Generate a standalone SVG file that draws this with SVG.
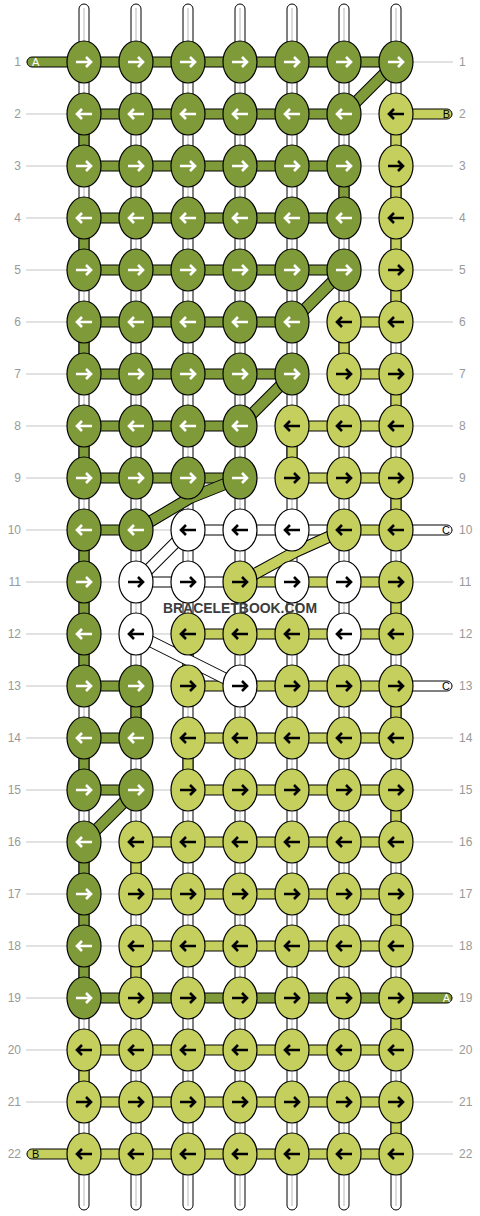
<svg xmlns="http://www.w3.org/2000/svg" xmlns:xlink="http://www.w3.org/1999/xlink" width="480" height="1216" viewBox="0 0 480 1216">
<style>
.d{fill:#7f9a38}.l{fill:#c5cf5d}.w{fill:#fff}
.aw{stroke:#fff}.ab{stroke:#000}
.bar{stroke:#000;stroke-width:1}
.rl{stroke:#c4c4c4;stroke-width:1}
.warp{fill:#fff;stroke:#000;stroke-width:1}
.wl{stroke:#b8b8b8;stroke-width:1}
.dg{fill:none;stroke-linecap:butt;stroke-linejoin:round}
.lab{font-family:"Liberation Sans",Arial,sans-serif;font-size:12px;fill:#999}
.tab{font-family:"Liberation Sans",Arial,sans-serif;font-size:11px}
.wm{font-family:"Liberation Sans",Arial,sans-serif;font-size:14px;font-weight:bold;fill:#3c3c3c}
</style>
<defs>
<ellipse id="E" rx="17" ry="21" stroke="#000" stroke-width="1.2"/>
<path id="R" d="M-8,0H6.5M2,-5L7,0L2,5" fill="none" stroke-width="2.6"/>
<path id="L" d="M8,0H-6.5M-2,-5L-7,0L-2,5" fill="none" stroke-width="2.6"/>
</defs>
<g id="rowlines">
<line class="rl" x1="26" x2="453" y1="62" y2="62"/><line class="rl" x1="26" x2="453" y1="114" y2="114"/><line class="rl" x1="26" x2="453" y1="166" y2="166"/><line class="rl" x1="26" x2="453" y1="218" y2="218"/><line class="rl" x1="26" x2="453" y1="270" y2="270"/><line class="rl" x1="26" x2="453" y1="322" y2="322"/><line class="rl" x1="26" x2="453" y1="374" y2="374"/><line class="rl" x1="26" x2="453" y1="426" y2="426"/><line class="rl" x1="26" x2="453" y1="478" y2="478"/><line class="rl" x1="26" x2="453" y1="530" y2="530"/><line class="rl" x1="26" x2="453" y1="582" y2="582"/><line class="rl" x1="26" x2="453" y1="634" y2="634"/><line class="rl" x1="26" x2="453" y1="686" y2="686"/><line class="rl" x1="26" x2="453" y1="738" y2="738"/><line class="rl" x1="26" x2="453" y1="790" y2="790"/><line class="rl" x1="26" x2="453" y1="842" y2="842"/><line class="rl" x1="26" x2="453" y1="894" y2="894"/><line class="rl" x1="26" x2="453" y1="946" y2="946"/><line class="rl" x1="26" x2="453" y1="998" y2="998"/><line class="rl" x1="26" x2="453" y1="1050" y2="1050"/><line class="rl" x1="26" x2="453" y1="1102" y2="1102"/><line class="rl" x1="26" x2="453" y1="1154" y2="1154"/>
</g>
<g id="labels" class="lab">
<g text-anchor="end">
<text x="21" y="66">1</text><text x="21" y="118">2</text><text x="21" y="170">3</text><text x="21" y="222">4</text><text x="21" y="274">5</text><text x="21" y="326">6</text><text x="21" y="378">7</text><text x="21" y="430">8</text><text x="21" y="482">9</text><text x="21" y="534">10</text><text x="21" y="586">11</text><text x="21" y="638">12</text><text x="21" y="690">13</text><text x="21" y="742">14</text><text x="21" y="794">15</text><text x="21" y="846">16</text><text x="21" y="898">17</text><text x="21" y="950">18</text><text x="21" y="1002">19</text><text x="21" y="1054">20</text><text x="21" y="1106">21</text><text x="21" y="1158">22</text>
</g>
<g>
<text x="459" y="66">1</text><text x="459" y="118">2</text><text x="459" y="170">3</text><text x="459" y="222">4</text><text x="459" y="274">5</text><text x="459" y="326">6</text><text x="459" y="378">7</text><text x="459" y="430">8</text><text x="459" y="482">9</text><text x="459" y="534">10</text><text x="459" y="586">11</text><text x="459" y="638">12</text><text x="459" y="690">13</text><text x="459" y="742">14</text><text x="459" y="794">15</text><text x="459" y="846">16</text><text x="459" y="898">17</text><text x="459" y="950">18</text><text x="459" y="1002">19</text><text x="459" y="1054">20</text><text x="459" y="1106">21</text><text x="459" y="1158">22</text>
</g>
</g>
<g id="warps">
<rect class="warp" x="79" y="4" width="10" height="1206" rx="5"/><line class="wl" x1="84" x2="84" y1="8" y2="1206"/>
<rect class="warp" x="131" y="4" width="10" height="1206" rx="5"/><line class="wl" x1="136" x2="136" y1="8" y2="1206"/>
<rect class="warp" x="183" y="4" width="10" height="1206" rx="5"/><line class="wl" x1="188" x2="188" y1="8" y2="1206"/>
<rect class="warp" x="235" y="4" width="10" height="1206" rx="5"/><line class="wl" x1="240" x2="240" y1="8" y2="1206"/>
<rect class="warp" x="287" y="4" width="10" height="1206" rx="5"/><line class="wl" x1="292" x2="292" y1="8" y2="1206"/>
<rect class="warp" x="339" y="4" width="10" height="1206" rx="5"/><line class="wl" x1="344" x2="344" y1="8" y2="1206"/>
<rect class="warp" x="391" y="4" width="10" height="1206" rx="5"/><line class="wl" x1="396" x2="396" y1="8" y2="1206"/>
</g>
<g id="connectors">
<g id="hbars" class="bar">
<path class="d" d="M396,57H32A5,5 0 0 0 32,67H396Z"/>
<rect class="d" x="84" y="109" width="260" height="10"/>
<path class="l" d="M396,109H447A5,5 0 0 1 447,119H396Z"/>
<rect class="d" x="84" y="161" width="260" height="10"/>
<rect class="d" x="84" y="213" width="260" height="10"/>
<rect class="d" x="84" y="265" width="260" height="10"/>
<rect class="d" x="84" y="317" width="208" height="10"/><rect class="l" x="344" y="317" width="52" height="10"/>
<rect class="d" x="84" y="369" width="208" height="10"/><rect class="l" x="344" y="369" width="52" height="10"/>
<rect class="d" x="84" y="421" width="156" height="10"/><rect class="l" x="292" y="421" width="104" height="10"/>
<rect class="d" x="84" y="473" width="156" height="10"/><rect class="l" x="292" y="473" width="104" height="10"/>
<rect class="d" x="84" y="525" width="52" height="10"/><rect class="w" x="188" y="525" width="156" height="10"/><rect class="l" x="344" y="525" width="52" height="10"/>
<path class="w" d="M396,525H447A5,5 0 0 1 447,535H396Z"/>
<rect class="w" x="136" y="577" width="104" height="10"/><rect class="l" x="240" y="577" width="156" height="10"/>
<rect class="l" x="188" y="629" width="208" height="10"/>
<rect class="d" x="84" y="681" width="52" height="10"/><rect class="l" x="188" y="681" width="208" height="10"/>
<path class="w" d="M396,681H447A5,5 0 0 1 447,691H396Z"/>
<rect class="d" x="84" y="733" width="52" height="10"/><rect class="l" x="188" y="733" width="208" height="10"/>
<rect class="d" x="84" y="785" width="52" height="10"/><rect class="l" x="188" y="785" width="208" height="10"/>
<rect class="l" x="136" y="837" width="260" height="10"/>
<rect class="l" x="136" y="889" width="260" height="10"/>
<rect class="l" x="136" y="941" width="260" height="10"/>
<path class="d" d="M84,993H447A5,5 0 0 1 447,1003H84Z"/>
<rect class="l" x="84" y="1045" width="312" height="10"/>
<rect class="l" x="84" y="1097" width="312" height="10"/>
<path class="l" d="M396,1149H32A5,5 0 0 0 32,1159H396Z"/>
</g>
<g id="vbars" class="bar">
<rect class="d" x="79" y="114" width="10" height="52"/><rect class="d" x="339" y="166" width="10" height="52"/><rect class="d" x="79" y="218" width="10" height="52"/><rect class="d" x="79" y="322" width="10" height="52"/><rect class="d" x="79" y="426" width="10" height="52"/><rect class="d" x="79" y="530" width="10" height="52"/><rect class="d" x="79" y="582" width="10" height="52"/><rect class="d" x="79" y="634" width="10" height="52"/><rect class="d" x="131" y="686" width="10" height="52"/><rect class="d" x="79" y="738" width="10" height="52"/><rect class="d" x="79" y="842" width="10" height="52"/><rect class="d" x="79" y="894" width="10" height="52"/><rect class="d" x="79" y="946" width="10" height="52"/>
<rect class="l" x="391" y="114" width="10" height="52"/><rect class="l" x="391" y="166" width="10" height="52"/><rect class="l" x="391" y="218" width="10" height="52"/><rect class="l" x="391" y="270" width="10" height="52"/><rect class="l" x="339" y="322" width="10" height="52"/><rect class="l" x="391" y="374" width="10" height="52"/><rect class="l" x="287" y="426" width="10" height="52"/><rect class="l" x="391" y="478" width="10" height="52"/><rect class="l" x="391" y="582" width="10" height="52"/><rect class="l" x="183" y="634" width="10" height="52"/><rect class="l" x="391" y="686" width="10" height="52"/><rect class="l" x="183" y="738" width="10" height="52"/><rect class="l" x="391" y="790" width="10" height="52"/><rect class="l" x="131" y="842" width="10" height="52"/><rect class="l" x="391" y="894" width="10" height="52"/><rect class="l" x="131" y="946" width="10" height="52"/><rect class="l" x="391" y="998" width="10" height="52"/><rect class="l" x="79" y="1050" width="10" height="52"/><rect class="l" x="391" y="1102" width="10" height="52"/>
</g>
<g id="diagonals" class="dg">
<g stroke="#000" stroke-width="12">
<polyline points="396,62 344,114"/><polyline points="344,270 292,322"/><polyline points="292,374 240,426"/><polyline points="240,478 190,498 136,530"/><polyline points="136,790 84,842"/>
<polyline points="344,530 295,552 240,582"/>
<polyline points="188,530 136,582"/><polyline points="136,634 240,686"/>
</g>
<g stroke="#7f9a38" stroke-width="10">
<polyline points="396,62 344,114"/><polyline points="344,270 292,322"/><polyline points="292,374 240,426"/><polyline points="240,478 190,498 136,530"/><polyline points="136,790 84,842"/>
</g>
<polyline stroke="#c5cf5d" stroke-width="10" points="344,530 295,552 240,582"/>
<g stroke="#fff" stroke-width="10">
<polyline points="188,530 136,582"/><polyline points="136,634 240,686"/>
</g>
</g>
</g>
<g id="tabtext" class="tab">
<text x="32" y="66" fill="#fff">A</text>
<text x="450" y="118" text-anchor="end" fill="#000">B</text>
<text x="450" y="534" text-anchor="end" fill="#000">C</text>
<text x="450" y="690" text-anchor="end" fill="#000">C</text>
<text x="450" y="1002" text-anchor="end" fill="#fff">A</text>
<text x="32" y="1158" fill="#000">B</text>
</g>
<g id="knots">
<g id="k1_1"><use href="#E" x="84" y="62" class="d"/><use href="#R" x="84" y="62" class="aw"/></g>
<g id="k1_2"><use href="#E" x="136" y="62" class="d"/><use href="#R" x="136" y="62" class="aw"/></g>
<g id="k1_3"><use href="#E" x="188" y="62" class="d"/><use href="#R" x="188" y="62" class="aw"/></g>
<g id="k1_4"><use href="#E" x="240" y="62" class="d"/><use href="#R" x="240" y="62" class="aw"/></g>
<g id="k1_5"><use href="#E" x="292" y="62" class="d"/><use href="#R" x="292" y="62" class="aw"/></g>
<g id="k1_6"><use href="#E" x="344" y="62" class="d"/><use href="#R" x="344" y="62" class="aw"/></g>
<g id="k1_7"><use href="#E" x="396" y="62" class="d"/><use href="#R" x="396" y="62" class="aw"/></g>
<g id="k2_1"><use href="#E" x="84" y="114" class="d"/><use href="#L" x="84" y="114" class="aw"/></g>
<g id="k2_2"><use href="#E" x="136" y="114" class="d"/><use href="#L" x="136" y="114" class="aw"/></g>
<g id="k2_3"><use href="#E" x="188" y="114" class="d"/><use href="#L" x="188" y="114" class="aw"/></g>
<g id="k2_4"><use href="#E" x="240" y="114" class="d"/><use href="#L" x="240" y="114" class="aw"/></g>
<g id="k2_5"><use href="#E" x="292" y="114" class="d"/><use href="#L" x="292" y="114" class="aw"/></g>
<g id="k2_6"><use href="#E" x="344" y="114" class="d"/><use href="#L" x="344" y="114" class="aw"/></g>
<g id="k2_7"><use href="#E" x="396" y="114" class="l"/><use href="#L" x="396" y="114" class="ab"/></g>
<g id="k3_1"><use href="#E" x="84" y="166" class="d"/><use href="#R" x="84" y="166" class="aw"/></g>
<g id="k3_2"><use href="#E" x="136" y="166" class="d"/><use href="#R" x="136" y="166" class="aw"/></g>
<g id="k3_3"><use href="#E" x="188" y="166" class="d"/><use href="#R" x="188" y="166" class="aw"/></g>
<g id="k3_4"><use href="#E" x="240" y="166" class="d"/><use href="#R" x="240" y="166" class="aw"/></g>
<g id="k3_5"><use href="#E" x="292" y="166" class="d"/><use href="#R" x="292" y="166" class="aw"/></g>
<g id="k3_6"><use href="#E" x="344" y="166" class="d"/><use href="#R" x="344" y="166" class="aw"/></g>
<g id="k3_7"><use href="#E" x="396" y="166" class="l"/><use href="#R" x="396" y="166" class="ab"/></g>
<g id="k4_1"><use href="#E" x="84" y="218" class="d"/><use href="#L" x="84" y="218" class="aw"/></g>
<g id="k4_2"><use href="#E" x="136" y="218" class="d"/><use href="#L" x="136" y="218" class="aw"/></g>
<g id="k4_3"><use href="#E" x="188" y="218" class="d"/><use href="#L" x="188" y="218" class="aw"/></g>
<g id="k4_4"><use href="#E" x="240" y="218" class="d"/><use href="#L" x="240" y="218" class="aw"/></g>
<g id="k4_5"><use href="#E" x="292" y="218" class="d"/><use href="#L" x="292" y="218" class="aw"/></g>
<g id="k4_6"><use href="#E" x="344" y="218" class="d"/><use href="#L" x="344" y="218" class="aw"/></g>
<g id="k4_7"><use href="#E" x="396" y="218" class="l"/><use href="#L" x="396" y="218" class="ab"/></g>
<g id="k5_1"><use href="#E" x="84" y="270" class="d"/><use href="#R" x="84" y="270" class="aw"/></g>
<g id="k5_2"><use href="#E" x="136" y="270" class="d"/><use href="#R" x="136" y="270" class="aw"/></g>
<g id="k5_3"><use href="#E" x="188" y="270" class="d"/><use href="#R" x="188" y="270" class="aw"/></g>
<g id="k5_4"><use href="#E" x="240" y="270" class="d"/><use href="#R" x="240" y="270" class="aw"/></g>
<g id="k5_5"><use href="#E" x="292" y="270" class="d"/><use href="#R" x="292" y="270" class="aw"/></g>
<g id="k5_6"><use href="#E" x="344" y="270" class="d"/><use href="#R" x="344" y="270" class="aw"/></g>
<g id="k5_7"><use href="#E" x="396" y="270" class="l"/><use href="#R" x="396" y="270" class="ab"/></g>
<g id="k6_1"><use href="#E" x="84" y="322" class="d"/><use href="#L" x="84" y="322" class="aw"/></g>
<g id="k6_2"><use href="#E" x="136" y="322" class="d"/><use href="#L" x="136" y="322" class="aw"/></g>
<g id="k6_3"><use href="#E" x="188" y="322" class="d"/><use href="#L" x="188" y="322" class="aw"/></g>
<g id="k6_4"><use href="#E" x="240" y="322" class="d"/><use href="#L" x="240" y="322" class="aw"/></g>
<g id="k6_5"><use href="#E" x="292" y="322" class="d"/><use href="#L" x="292" y="322" class="aw"/></g>
<g id="k6_6"><use href="#E" x="344" y="322" class="l"/><use href="#L" x="344" y="322" class="ab"/></g>
<g id="k6_7"><use href="#E" x="396" y="322" class="l"/><use href="#L" x="396" y="322" class="ab"/></g>
<g id="k7_1"><use href="#E" x="84" y="374" class="d"/><use href="#R" x="84" y="374" class="aw"/></g>
<g id="k7_2"><use href="#E" x="136" y="374" class="d"/><use href="#R" x="136" y="374" class="aw"/></g>
<g id="k7_3"><use href="#E" x="188" y="374" class="d"/><use href="#R" x="188" y="374" class="aw"/></g>
<g id="k7_4"><use href="#E" x="240" y="374" class="d"/><use href="#R" x="240" y="374" class="aw"/></g>
<g id="k7_5"><use href="#E" x="292" y="374" class="d"/><use href="#R" x="292" y="374" class="aw"/></g>
<g id="k7_6"><use href="#E" x="344" y="374" class="l"/><use href="#R" x="344" y="374" class="ab"/></g>
<g id="k7_7"><use href="#E" x="396" y="374" class="l"/><use href="#R" x="396" y="374" class="ab"/></g>
<g id="k8_1"><use href="#E" x="84" y="426" class="d"/><use href="#L" x="84" y="426" class="aw"/></g>
<g id="k8_2"><use href="#E" x="136" y="426" class="d"/><use href="#L" x="136" y="426" class="aw"/></g>
<g id="k8_3"><use href="#E" x="188" y="426" class="d"/><use href="#L" x="188" y="426" class="aw"/></g>
<g id="k8_4"><use href="#E" x="240" y="426" class="d"/><use href="#L" x="240" y="426" class="aw"/></g>
<g id="k8_5"><use href="#E" x="292" y="426" class="l"/><use href="#L" x="292" y="426" class="ab"/></g>
<g id="k8_6"><use href="#E" x="344" y="426" class="l"/><use href="#L" x="344" y="426" class="ab"/></g>
<g id="k8_7"><use href="#E" x="396" y="426" class="l"/><use href="#L" x="396" y="426" class="ab"/></g>
<g id="k9_1"><use href="#E" x="84" y="478" class="d"/><use href="#R" x="84" y="478" class="aw"/></g>
<g id="k9_2"><use href="#E" x="136" y="478" class="d"/><use href="#R" x="136" y="478" class="aw"/></g>
<g id="k9_3"><use href="#E" x="188" y="478" class="d"/><use href="#R" x="188" y="478" class="aw"/></g>
<g id="k9_4"><use href="#E" x="240" y="478" class="d"/><use href="#R" x="240" y="478" class="aw"/></g>
<g id="k9_5"><use href="#E" x="292" y="478" class="l"/><use href="#R" x="292" y="478" class="ab"/></g>
<g id="k9_6"><use href="#E" x="344" y="478" class="l"/><use href="#R" x="344" y="478" class="ab"/></g>
<g id="k9_7"><use href="#E" x="396" y="478" class="l"/><use href="#R" x="396" y="478" class="ab"/></g>
<g id="k10_1"><use href="#E" x="84" y="530" class="d"/><use href="#L" x="84" y="530" class="aw"/></g>
<g id="k10_2"><use href="#E" x="136" y="530" class="d"/><use href="#L" x="136" y="530" class="aw"/></g>
<g id="k10_3"><use href="#E" x="188" y="530" class="w"/><use href="#L" x="188" y="530" class="ab"/></g>
<g id="k10_4"><use href="#E" x="240" y="530" class="w"/><use href="#L" x="240" y="530" class="ab"/></g>
<g id="k10_5"><use href="#E" x="292" y="530" class="w"/><use href="#L" x="292" y="530" class="ab"/></g>
<g id="k10_6"><use href="#E" x="344" y="530" class="l"/><use href="#L" x="344" y="530" class="ab"/></g>
<g id="k10_7"><use href="#E" x="396" y="530" class="l"/><use href="#L" x="396" y="530" class="ab"/></g>
<g id="k11_1"><use href="#E" x="84" y="582" class="d"/><use href="#R" x="84" y="582" class="aw"/></g>
<g id="k11_2"><use href="#E" x="136" y="582" class="w"/><use href="#R" x="136" y="582" class="ab"/></g>
<g id="k11_3"><use href="#E" x="188" y="582" class="w"/><use href="#R" x="188" y="582" class="ab"/></g>
<g id="k11_4"><use href="#E" x="240" y="582" class="l"/><use href="#R" x="240" y="582" class="ab"/></g>
<g id="k11_5"><use href="#E" x="292" y="582" class="w"/><use href="#R" x="292" y="582" class="ab"/></g>
<g id="k11_6"><use href="#E" x="344" y="582" class="w"/><use href="#R" x="344" y="582" class="ab"/></g>
<g id="k11_7"><use href="#E" x="396" y="582" class="l"/><use href="#R" x="396" y="582" class="ab"/></g>
<g id="k12_1"><use href="#E" x="84" y="634" class="d"/><use href="#L" x="84" y="634" class="aw"/></g>
<g id="k12_2"><use href="#E" x="136" y="634" class="w"/><use href="#L" x="136" y="634" class="ab"/></g>
<g id="k12_3"><use href="#E" x="188" y="634" class="l"/><use href="#L" x="188" y="634" class="ab"/></g>
<g id="k12_4"><use href="#E" x="240" y="634" class="l"/><use href="#L" x="240" y="634" class="ab"/></g>
<g id="k12_5"><use href="#E" x="292" y="634" class="l"/><use href="#L" x="292" y="634" class="ab"/></g>
<g id="k12_6"><use href="#E" x="344" y="634" class="w"/><use href="#L" x="344" y="634" class="ab"/></g>
<g id="k12_7"><use href="#E" x="396" y="634" class="l"/><use href="#L" x="396" y="634" class="ab"/></g>
<g id="k13_1"><use href="#E" x="84" y="686" class="d"/><use href="#R" x="84" y="686" class="aw"/></g>
<g id="k13_2"><use href="#E" x="136" y="686" class="d"/><use href="#R" x="136" y="686" class="aw"/></g>
<g id="k13_3"><use href="#E" x="188" y="686" class="l"/><use href="#R" x="188" y="686" class="ab"/></g>
<g id="k13_4"><use href="#E" x="240" y="686" class="w"/><use href="#R" x="240" y="686" class="ab"/></g>
<g id="k13_5"><use href="#E" x="292" y="686" class="l"/><use href="#R" x="292" y="686" class="ab"/></g>
<g id="k13_6"><use href="#E" x="344" y="686" class="l"/><use href="#R" x="344" y="686" class="ab"/></g>
<g id="k13_7"><use href="#E" x="396" y="686" class="l"/><use href="#R" x="396" y="686" class="ab"/></g>
<g id="k14_1"><use href="#E" x="84" y="738" class="d"/><use href="#L" x="84" y="738" class="aw"/></g>
<g id="k14_2"><use href="#E" x="136" y="738" class="d"/><use href="#L" x="136" y="738" class="aw"/></g>
<g id="k14_3"><use href="#E" x="188" y="738" class="l"/><use href="#L" x="188" y="738" class="ab"/></g>
<g id="k14_4"><use href="#E" x="240" y="738" class="l"/><use href="#L" x="240" y="738" class="ab"/></g>
<g id="k14_5"><use href="#E" x="292" y="738" class="l"/><use href="#L" x="292" y="738" class="ab"/></g>
<g id="k14_6"><use href="#E" x="344" y="738" class="l"/><use href="#L" x="344" y="738" class="ab"/></g>
<g id="k14_7"><use href="#E" x="396" y="738" class="l"/><use href="#L" x="396" y="738" class="ab"/></g>
<g id="k15_1"><use href="#E" x="84" y="790" class="d"/><use href="#R" x="84" y="790" class="aw"/></g>
<g id="k15_2"><use href="#E" x="136" y="790" class="d"/><use href="#R" x="136" y="790" class="aw"/></g>
<g id="k15_3"><use href="#E" x="188" y="790" class="l"/><use href="#R" x="188" y="790" class="ab"/></g>
<g id="k15_4"><use href="#E" x="240" y="790" class="l"/><use href="#R" x="240" y="790" class="ab"/></g>
<g id="k15_5"><use href="#E" x="292" y="790" class="l"/><use href="#R" x="292" y="790" class="ab"/></g>
<g id="k15_6"><use href="#E" x="344" y="790" class="l"/><use href="#R" x="344" y="790" class="ab"/></g>
<g id="k15_7"><use href="#E" x="396" y="790" class="l"/><use href="#R" x="396" y="790" class="ab"/></g>
<g id="k16_1"><use href="#E" x="84" y="842" class="d"/><use href="#L" x="84" y="842" class="aw"/></g>
<g id="k16_2"><use href="#E" x="136" y="842" class="l"/><use href="#L" x="136" y="842" class="ab"/></g>
<g id="k16_3"><use href="#E" x="188" y="842" class="l"/><use href="#L" x="188" y="842" class="ab"/></g>
<g id="k16_4"><use href="#E" x="240" y="842" class="l"/><use href="#L" x="240" y="842" class="ab"/></g>
<g id="k16_5"><use href="#E" x="292" y="842" class="l"/><use href="#L" x="292" y="842" class="ab"/></g>
<g id="k16_6"><use href="#E" x="344" y="842" class="l"/><use href="#L" x="344" y="842" class="ab"/></g>
<g id="k16_7"><use href="#E" x="396" y="842" class="l"/><use href="#L" x="396" y="842" class="ab"/></g>
<g id="k17_1"><use href="#E" x="84" y="894" class="d"/><use href="#R" x="84" y="894" class="aw"/></g>
<g id="k17_2"><use href="#E" x="136" y="894" class="l"/><use href="#R" x="136" y="894" class="ab"/></g>
<g id="k17_3"><use href="#E" x="188" y="894" class="l"/><use href="#R" x="188" y="894" class="ab"/></g>
<g id="k17_4"><use href="#E" x="240" y="894" class="l"/><use href="#R" x="240" y="894" class="ab"/></g>
<g id="k17_5"><use href="#E" x="292" y="894" class="l"/><use href="#R" x="292" y="894" class="ab"/></g>
<g id="k17_6"><use href="#E" x="344" y="894" class="l"/><use href="#R" x="344" y="894" class="ab"/></g>
<g id="k17_7"><use href="#E" x="396" y="894" class="l"/><use href="#R" x="396" y="894" class="ab"/></g>
<g id="k18_1"><use href="#E" x="84" y="946" class="d"/><use href="#L" x="84" y="946" class="aw"/></g>
<g id="k18_2"><use href="#E" x="136" y="946" class="l"/><use href="#L" x="136" y="946" class="ab"/></g>
<g id="k18_3"><use href="#E" x="188" y="946" class="l"/><use href="#L" x="188" y="946" class="ab"/></g>
<g id="k18_4"><use href="#E" x="240" y="946" class="l"/><use href="#L" x="240" y="946" class="ab"/></g>
<g id="k18_5"><use href="#E" x="292" y="946" class="l"/><use href="#L" x="292" y="946" class="ab"/></g>
<g id="k18_6"><use href="#E" x="344" y="946" class="l"/><use href="#L" x="344" y="946" class="ab"/></g>
<g id="k18_7"><use href="#E" x="396" y="946" class="l"/><use href="#L" x="396" y="946" class="ab"/></g>
<g id="k19_1"><use href="#E" x="84" y="998" class="d"/><use href="#R" x="84" y="998" class="aw"/></g>
<g id="k19_2"><use href="#E" x="136" y="998" class="l"/><use href="#R" x="136" y="998" class="ab"/></g>
<g id="k19_3"><use href="#E" x="188" y="998" class="l"/><use href="#R" x="188" y="998" class="ab"/></g>
<g id="k19_4"><use href="#E" x="240" y="998" class="l"/><use href="#R" x="240" y="998" class="ab"/></g>
<g id="k19_5"><use href="#E" x="292" y="998" class="l"/><use href="#R" x="292" y="998" class="ab"/></g>
<g id="k19_6"><use href="#E" x="344" y="998" class="l"/><use href="#R" x="344" y="998" class="ab"/></g>
<g id="k19_7"><use href="#E" x="396" y="998" class="l"/><use href="#R" x="396" y="998" class="ab"/></g>
<g id="k20_1"><use href="#E" x="84" y="1050" class="l"/><use href="#L" x="84" y="1050" class="ab"/></g>
<g id="k20_2"><use href="#E" x="136" y="1050" class="l"/><use href="#L" x="136" y="1050" class="ab"/></g>
<g id="k20_3"><use href="#E" x="188" y="1050" class="l"/><use href="#L" x="188" y="1050" class="ab"/></g>
<g id="k20_4"><use href="#E" x="240" y="1050" class="l"/><use href="#L" x="240" y="1050" class="ab"/></g>
<g id="k20_5"><use href="#E" x="292" y="1050" class="l"/><use href="#L" x="292" y="1050" class="ab"/></g>
<g id="k20_6"><use href="#E" x="344" y="1050" class="l"/><use href="#L" x="344" y="1050" class="ab"/></g>
<g id="k20_7"><use href="#E" x="396" y="1050" class="l"/><use href="#L" x="396" y="1050" class="ab"/></g>
<g id="k21_1"><use href="#E" x="84" y="1102" class="l"/><use href="#R" x="84" y="1102" class="ab"/></g>
<g id="k21_2"><use href="#E" x="136" y="1102" class="l"/><use href="#R" x="136" y="1102" class="ab"/></g>
<g id="k21_3"><use href="#E" x="188" y="1102" class="l"/><use href="#R" x="188" y="1102" class="ab"/></g>
<g id="k21_4"><use href="#E" x="240" y="1102" class="l"/><use href="#R" x="240" y="1102" class="ab"/></g>
<g id="k21_5"><use href="#E" x="292" y="1102" class="l"/><use href="#R" x="292" y="1102" class="ab"/></g>
<g id="k21_6"><use href="#E" x="344" y="1102" class="l"/><use href="#R" x="344" y="1102" class="ab"/></g>
<g id="k21_7"><use href="#E" x="396" y="1102" class="l"/><use href="#R" x="396" y="1102" class="ab"/></g>
<g id="k22_1"><use href="#E" x="84" y="1154" class="l"/><use href="#L" x="84" y="1154" class="ab"/></g>
<g id="k22_2"><use href="#E" x="136" y="1154" class="l"/><use href="#L" x="136" y="1154" class="ab"/></g>
<g id="k22_3"><use href="#E" x="188" y="1154" class="l"/><use href="#L" x="188" y="1154" class="ab"/></g>
<g id="k22_4"><use href="#E" x="240" y="1154" class="l"/><use href="#L" x="240" y="1154" class="ab"/></g>
<g id="k22_5"><use href="#E" x="292" y="1154" class="l"/><use href="#L" x="292" y="1154" class="ab"/></g>
<g id="k22_6"><use href="#E" x="344" y="1154" class="l"/><use href="#L" x="344" y="1154" class="ab"/></g>
<g id="k22_7"><use href="#E" x="396" y="1154" class="l"/><use href="#L" x="396" y="1154" class="ab"/></g>
</g>
<text class="wm" x="240" y="613" text-anchor="middle" textLength="154" lengthAdjust="spacingAndGlyphs">BRACELETBOOK.COM</text>
</svg>
